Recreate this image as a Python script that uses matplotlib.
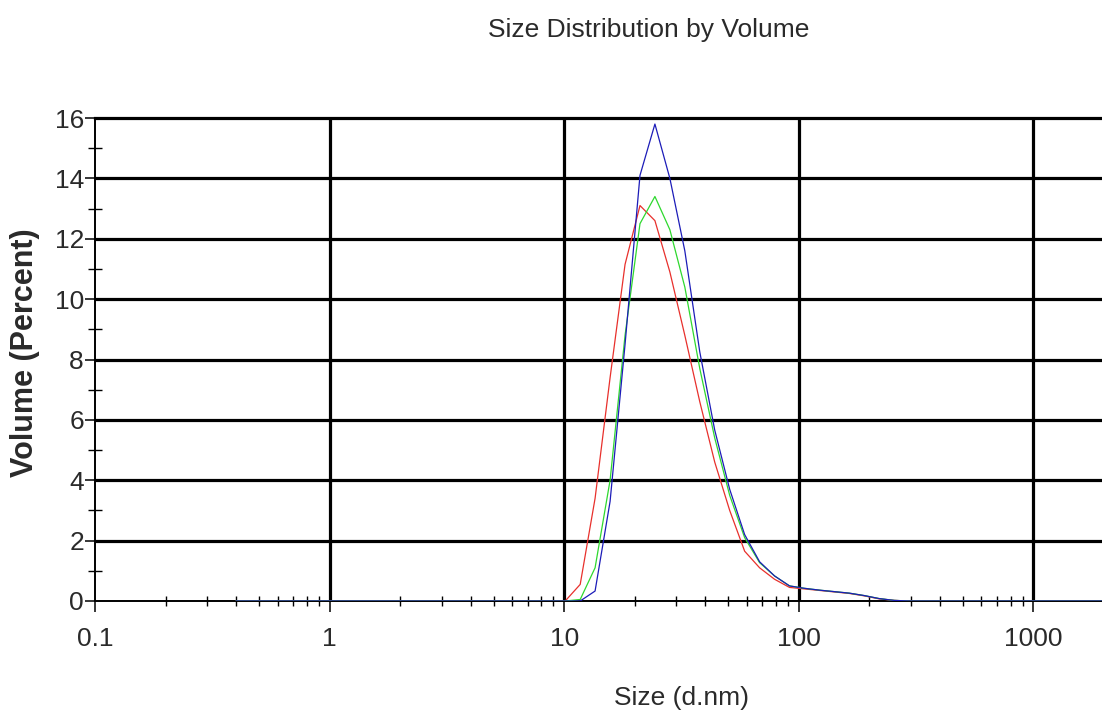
import matplotlib
matplotlib.use("Agg")
import matplotlib.pyplot as plt
from matplotlib.ticker import FixedLocator, NullFormatter

plt.rcParams['font.family'] = ['Liberation Sans', 'DejaVu Sans']

# Size bins (d.nm)
sizes = [0.4, 0.4632, 0.5365, 0.6213, 0.7195, 0.8332, 0.9649, 1.117, 1.294, 1.499,
         1.736, 2.01, 2.328, 2.696, 3.122, 3.615, 4.187, 4.849, 5.615, 6.503,
         7.531, 8.721, 10.1, 11.7, 13.54, 15.69, 18.17, 21.04, 24.36, 28.21,
         32.67, 37.84, 43.82, 50.75, 58.77, 68.06, 78.82, 91.28, 105.7, 122.4,
         141.8, 164.2, 190.1, 220.2, 255.0, 295.3, 342.0, 396.1, 458.7, 531.2,
         615.1, 712.4, 825.0, 955.4, 1106, 1281, 1484, 1718, 1990, 2305,
         2669, 3091, 3580, 4145, 4801, 5560, 6439, 7456, 8635, 10000]

vol_red = [0, 0, 0, 0, 0, 0, 0, 0, 0, 0,
           0, 0, 0, 0, 0, 0, 0, 0, 0, 0,
           0, 0, 0, 0.55, 3.4, 7.4, 11.15, 13.1, 12.6, 10.9,
           8.8, 6.6, 4.6, 3.0, 1.65, 1.1, 0.72, 0.45, 0.4, 0.35,
           0.3, 0.25, 0.17, 0.07, 0.02, 0, 0, 0, 0, 0,
           0, 0, 0, 0, 0, 0, 0, 0, 0, 0,
           0, 0, 0, 0, 0, 0, 0, 0, 0, 0]

vol_green = [0, 0, 0, 0, 0, 0, 0, 0, 0, 0,
             0, 0, 0, 0, 0, 0, 0, 0, 0, 0,
             0, 0, 0, 0.05, 1.1, 4.0, 8.8, 12.5, 13.4, 12.3,
             10.4, 7.7, 5.4, 3.5, 2.1, 1.27, 0.83, 0.5, 0.42, 0.36,
             0.31, 0.26, 0.18, 0.08, 0.02, 0, 0, 0, 0, 0,
             0, 0, 0, 0, 0, 0, 0, 0, 0, 0,
             0, 0, 0, 0, 0, 0, 0, 0, 0, 0]

vol_blue = [0, 0, 0, 0, 0, 0, 0, 0, 0, 0,
            0, 0, 0, 0, 0, 0, 0, 0, 0, 0,
            0, 0, 0, 0, 0.33, 3.3, 8.5, 14.1, 15.8, 14.0,
            11.6, 8.25, 5.66, 3.7, 2.2, 1.3, 0.83, 0.5, 0.42, 0.36,
            0.31, 0.26, 0.18, 0.08, 0.02, 0, 0, 0, 0, 0,
            0, 0, 0, 0, 0, 0, 0, 0, 0, 0,
            0, 0, 0, 0, 0, 0, 0, 0, 0, 0]

x_ticks = [0.1, 1, 10, 100, 1000]
x_ticklabels = ["0.1", "1", "10", "100", "1000"]
y_ticks = [0, 2, 4, 6, 8, 10, 12, 14, 16]
y_minor = [1, 3, 5, 7, 9, 11, 13, 15]
x_grid = [1, 10, 100, 1000]
y_grid = [2, 4, 6, 8, 10, 12, 14]

W, H = 1102, 713
fig = plt.figure(figsize=(W / 100, H / 100), dpi=100)
ax = fig.add_axes([95 / W, (H - 601) / H, (1268 - 95) / W, (601 - 118) / H])

ax.set_xscale('log')
ax.set_xlim(0.1, 10000)
ax.set_ylim(0, 16)

for g in y_grid:
    ax.axhline(g, color='black', lw=2.3, zorder=1)
for g in x_grid:
    ax.axvline(g, color='black', lw=2.3, zorder=1)

ax.plot(sizes, vol_red, color='#e8302c', lw=0.9, zorder=3)
ax.plot(sizes, vol_green, color='#2ed82e', lw=0.9, zorder=3)
ax.plot(sizes, vol_blue, color='#1c1cb8', lw=0.9, zorder=4)

ax.spines['right'].set_visible(False)
ax.spines['top'].set_linewidth(2.3)
ax.spines['left'].set_linewidth(1.4)
ax.spines['bottom'].set_linewidth(1.4)

ax.set_xticks(x_ticks)
ax.set_xticklabels(x_ticklabels)
ax.xaxis.set_minor_locator(FixedLocator(
    [m * d for d in [0.1, 1, 10, 100, 1000] for m in range(2, 10)]))
ax.xaxis.set_minor_formatter(NullFormatter())
ax.set_yticks(y_ticks)
ax.set_yticklabels([str(v) for v in y_ticks])
ax.yaxis.set_minor_locator(FixedLocator(y_minor))

ax.tick_params(axis='x', which='major', direction='out', length=8, width=1.1,
               pad=11, labelsize=19, labelcolor='#2a2a2a')
ax.tick_params(axis='x', which='minor', direction='inout', length=7, width=1.0)
ax.tick_params(axis='y', which='major', direction='out', length=7, width=1.1,
               pad=1, labelsize=19, labelcolor='#2a2a2a')
ax.tick_params(axis='y', which='minor', direction='inout', length=10, width=1.0)

fig.text(649 / W, 1 - 37 / H, "Size Distribution by Volume", ha='center',
         va='baseline', fontsize=19, color='#2a2a2a')
fig.text(681 / W, 1 - 705 / H, "Size (d.nm)", ha='center', va='baseline',
         fontsize=19, color='#2a2a2a')
fig.text(25 / W, 1 - 353 / H, "Volume (Percent)", ha='center', va='center',
         rotation=90, fontsize=22, fontweight='bold', color='#2a2a2a')

fig.savefig("out.png", dpi=100)
